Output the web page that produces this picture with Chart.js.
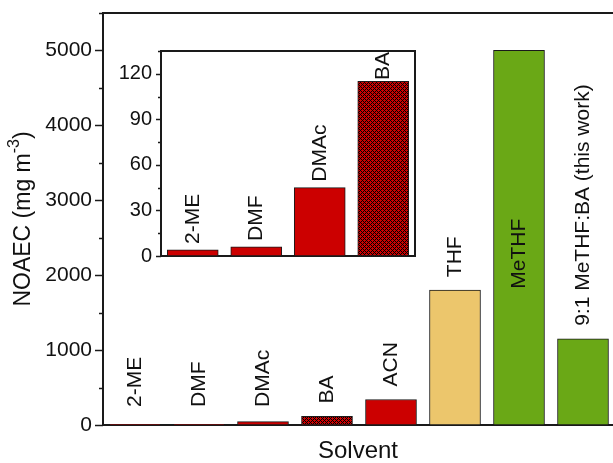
<!DOCTYPE html>
<html>
<head>
<meta charset="utf-8">
<script src="https://cdn.jsdelivr.net/npm/chart.js@4/dist/chart.umd.min.js"></script>
<style>
  html, body { margin: 0; padding: 0; background: #fff; }
  #wrap { position: relative; width: 613px; height: 463px; overflow: hidden; }
  #main { position: absolute; left: 0; top: 0; }
  #inset { position: absolute; left: 110px; top: 40px; }
</style>
</head>
<body>
<div id="wrap">
  <canvas id="main" width="613" height="463"></canvas>
  <canvas id="inset" width="310" height="222"></canvas>
</div>
<script>
// Solvents and their no-observed-adverse-effect concentrations (mg m^-3)
const solvents = ['2-ME', 'DMF', 'DMAc', 'BA', 'ACN', 'THF', 'MeTHF', '9:1 MeTHF:BA (this work)'];
const noaec = [4, 6, 45, 115, 340, 1800, 5000, 1150];

// Zoomed view of the four most restrictive solvents
const insetSolvents = ['2-ME', 'DMF', 'DMAc', 'BA'];
const insetNoaec = [4, 6, 45, 115];

// Axis tick values
const mainMajorTicks = [0, 1000, 2000, 3000, 4000, 5000];
const insetMajorTicks = [0, 30, 60, 90, 120];

const FONT = "'Liberation Sans', Arial, Helvetica, sans-serif";
const INK = '#1a1a1a';
const RED = '#cc0000';
const SAND = '#ecc66c';
const GREEN = '#6aa816';

// Red fill with a fine black cross-hatch (used for BA)
function hatchPattern(ctx) {
  const c = document.createElement('canvas');
  c.width = 4; c.height = 4;
  const g = c.getContext('2d');
  g.fillStyle = RED;
  g.fillRect(0, 0, 4, 4);
  g.fillStyle = '#000';
  for (let x = 0; x < 4; x++) {
    for (let y = 0; y < 4; y++) {
      if ((x + y) % 4 === 0 || (x - y + 4) % 4 === 0) g.fillRect(x, y, 1, 1);
    }
  }
  return ctx.createPattern(c, 'repeat');
}

const mainCtx = document.getElementById('main').getContext('2d');
const insetCtx = document.getElementById('inset').getContext('2d');
const mainHatch = hatchPattern(mainCtx);
const insetHatch = hatchPattern(insetCtx);

const mainFills = [RED, RED, RED, mainHatch, RED, SAND, GREEN, GREEN];
const insetFills = [RED, RED, RED, insetHatch];

// fixed axis box sizes, no extra room for overhanging tick labels
function fixWidth(w) {
  return s => { s.width = w; s.paddingTop = 0; s.paddingBottom = 0; s.paddingLeft = 0; s.paddingRight = 0; };
}
function fixHeight(h) {
  return s => { s.height = h; s.paddingTop = 0; s.paddingBottom = 0; s.paddingLeft = 0; s.paddingRight = 0; };
}

function drawRotated(ctx, text, x, y) {
  ctx.save();
  ctx.translate(x, y);
  ctx.rotate(-Math.PI / 2);
  ctx.textAlign = 'left';
  ctx.textBaseline = 'middle';
  ctx.fillText(text, 0, 0);
  ctx.restore();
}

function drawTickMarks(ctx, scale, left, step, maxVal, majorEvery, majorLen, minorLen) {
  ctx.save();
  ctx.strokeStyle = INK;
  ctx.lineWidth = 1.5;
  for (let v = 0; v <= maxVal + 1e-9; v += step) {
    const y = Math.round(scale.getPixelForValue(v)) + 0.5;
    const len = (Math.abs(v % majorEvery) < 1e-9) ? majorLen : minorLen;
    ctx.beginPath();
    ctx.moveTo(left - len, y);
    ctx.lineTo(left, y);
    ctx.stroke();
  }
  ctx.restore();
}

const mainDecor = {
  id: 'mainDecor',
  afterDraw(chart) {
    const { ctx, chartArea } = chart;
    const ys = chart.scales.y;
    // top frame line
    ctx.save();
    ctx.strokeStyle = INK;
    ctx.lineWidth = 2;
    ctx.beginPath();
    ctx.moveTo(chartArea.left - 1, chartArea.top);
    ctx.lineTo(chartArea.right + 2, chartArea.top);
    ctx.stroke();
    ctx.restore();

    drawTickMarks(ctx, ys, chartArea.left, 500, ys.max, 1000, 8, 4);

    // y-axis title with superscript unit
    ctx.save();
    ctx.fillStyle = '#111';
    ctx.translate(24, (chartArea.top + chartArea.bottom) / 2);
    ctx.rotate(-Math.PI / 2);
    ctx.textBaseline = 'middle';
    ctx.textAlign = 'left';
    const big = `23px ${FONT}`, small = `16px ${FONT}`;
    const a = 'NOAEC (mg m', s = '-3', b = ')';
    ctx.font = big; const wa = ctx.measureText(a).width; const wb = ctx.measureText(b).width;
    ctx.font = small; const ws = ctx.measureText(s).width;
    let x0 = -(wa + ws + wb) / 2;
    ctx.font = big; ctx.fillText(a, x0, 0);
    ctx.font = small; ctx.fillText(s, x0 + wa, -9);
    ctx.font = big; ctx.fillText(b, x0 + wa + ws, 0);
    ctx.restore();

    // solvent names above (or inside) each bar
    const meta = chart.getDatasetMeta(0);
    ctx.save();
    ctx.fillStyle = '#111';
    ctx.font = `21px ${FONT}`;
    meta.data.forEach((bar, i) => {
      const text = solvents[i];
      const w = ctx.measureText(text).width;
      let start;
      if (bar.y - 13 - w < chartArea.top) {
        start = (bar.y + bar.base) / 2 + 16 + w / 2;
      } else {
        start = Math.min(bar.y - 13, bar.base - 18);
      }
      drawRotated(ctx, text, bar.x, start);
    });
    ctx.restore();
  }
};

new Chart(mainCtx, {
  type: 'bar',
  data: {
    datasets: [{
      data: solvents.map((s, i) => ({ x: i, y: noaec[i] })),
      backgroundColor: mainFills,
      borderColor: INK,
      borderWidth: 1,
      borderSkipped: false,
      barThickness: 51
    }]
  },
  options: {
    responsive: false,
    devicePixelRatio: 1,
    animation: false,
    layout: { autoPadding: false, padding: { top: 13, left: 0, right: 0, bottom: 0 } },
    plugins: { legend: { display: false }, tooltip: { enabled: false } },
    scales: {
      x: {
        type: 'linear',
        offset: false,
        min: -0.5,
        max: 7.5 - 2 / 64,
        ticks: { display: false },
        grid: { display: false, drawTicks: false },
        border: { display: true, color: INK, width: 2 },
        title: {
          display: true, text: 'Solvent', color: '#111',
          font: { family: FONT, size: 24, lineHeight: 1 },
          padding: { top: 0, bottom: 0 }
        },
        afterFit: fixHeight(38)
      },
      y: {
        min: 0,
        max: 5500,
        ticks: {
          stepSize: 500,
          autoSkip: false,
          color: '#111',
          font: { family: FONT, size: 21 },
          padding: 11,
          callback: v => mainMajorTicks.includes(v) ? String(v) : ''
        },
        grid: { display: false, drawTicks: false },
        border: { display: true, color: INK, width: 2 },
        afterFit: fixWidth(103)
      }
    }
  },
  plugins: [mainDecor]
});

const insetDecor = {
  id: 'insetDecor',
  afterDraw(chart) {
    const { ctx, chartArea } = chart;
    const ys = chart.scales.y;
    ctx.save();
    ctx.strokeStyle = INK;
    ctx.lineWidth = 2;
    ctx.beginPath();
    ctx.moveTo(chartArea.left - 1, chartArea.top);
    ctx.lineTo(chartArea.right, chartArea.top);
    ctx.lineTo(chartArea.right, chartArea.bottom + 1);
    ctx.stroke();
    ctx.restore();

    drawTickMarks(ctx, ys, chartArea.left, 15, ys.max, 30, 5, 3);

    const meta = chart.getDatasetMeta(0);
    ctx.save();
    ctx.fillStyle = '#111';
    ctx.font = `21px ${FONT}`;
    meta.data.forEach((bar, i) => {
      const text = insetSolvents[i];
      const w = ctx.measureText(text).width;
      const start = Math.max(bar.y - 6, chartArea.top + w + 1);
      drawRotated(ctx, text, bar.x, start);
    });
    ctx.restore();
  }
};

new Chart(insetCtx, {
  type: 'bar',
  data: {
    labels: insetSolvents,
    datasets: [{
      data: insetNoaec,
      backgroundColor: insetFills,
      borderColor: INK,
      borderWidth: 1,
      borderSkipped: false,
      barThickness: 51
    }]
  },
  options: {
    responsive: false,
    devicePixelRatio: 1,
    animation: false,
    layout: { autoPadding: false, padding: { top: 11, left: 0, right: 5, bottom: 0 } },
    plugins: { legend: { display: false }, tooltip: { enabled: false } },
    scales: {
      x: {
        offset: true,
        ticks: { display: false },
        grid: { display: false, drawTicks: false },
        border: { display: true, color: INK, width: 2 },
        afterFit: fixHeight(6)
      },
      y: {
        min: 0,
        max: 135,
        ticks: {
          stepSize: 15,
          autoSkip: false,
          color: '#111',
          font: { family: FONT, size: 20 },
          padding: 9,
          callback: v => insetMajorTicks.includes(v) ? String(v) : ''
        },
        grid: { display: false, drawTicks: false },
        border: { display: true, color: INK, width: 2 },
        afterFit: fixWidth(51)
      }
    }
  },
  plugins: [insetDecor]
});
</script>
</body>
</html>
